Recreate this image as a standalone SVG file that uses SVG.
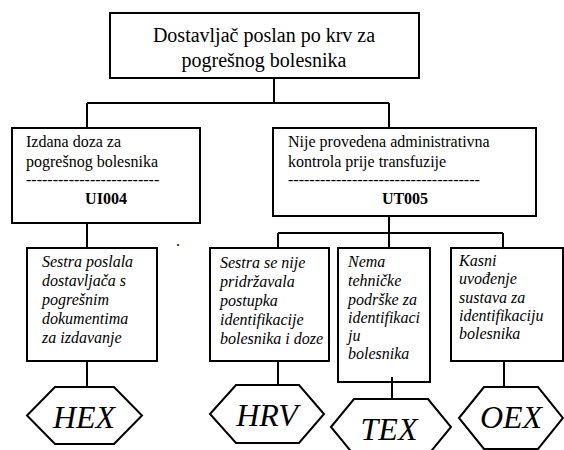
<svg xmlns="http://www.w3.org/2000/svg" width="564" height="450" viewBox="0 0 564 450" font-family="'Liberation Serif', 'Times New Roman', Times, serif">
<style>
.box{fill:#fff;stroke:#000;stroke-width:2}
.conn{stroke:#000;stroke-width:2;fill:none}
text{font-family:'Liberation Serif','Times New Roman',Times,serif;fill:#000}
.title{font-size:20px;text-anchor:middle}
.n{font-size:16px}
.i{font-size:16px;font-style:italic}
.code{font-size:16px;font-weight:bold;text-anchor:middle}
.hx{font-size:32px;font-style:italic;text-anchor:middle}
</style>
<rect width="564" height="450" fill="#fff"/>
<g id="top">
<rect class="box" x="110" y="13" width="309" height="65"/>
<text class="title" x="264" y="42">Dostavljač poslan po krv za</text>
<text class="title" x="264" y="67">pogrešnog bolesnika</text>
</g>
<g id="UI004">
<rect class="box" x="12" y="128" width="188" height="95"/>
<text class="n" x="26" y="147">Izdana doza za</text>
<text class="n" x="26" y="167">pogrešnog bolesnika</text>
<text class="n" x="26" y="185">-------------------------</text>
<text class="code" x="106" y="204">UI004</text>
</g>
<g id="UT005">
<rect class="box" x="273" y="128" width="263" height="88"/>
<text class="n" x="288" y="147">Nije provedena administrativna</text>
<text class="n" x="288" y="167">kontrola prije transfuzije</text>
<text class="n" x="288" y="185">------------------------------------</text>
<text class="code" x="405" y="204">UT005</text>
</g>
<g id="cause-hex">
<rect class="box" x="27" y="248" width="130" height="113"/>
<text class="i" x="42" y="267">Sestra poslala</text>
<text class="i" x="42" y="286">dostavljača s</text>
<text class="i" x="42" y="305">pogrešnim</text>
<text class="i" x="42" y="324">dokumentima</text>
<text class="i" x="42" y="343">za izdavanje</text>
</g>
<g id="cause-hrv">
<rect class="box" x="210" y="248" width="119" height="113"/>
<text class="i" x="220" y="268">Sestra se nije</text>
<text class="i" x="220" y="287">pridržavala</text>
<text class="i" x="220" y="306">postupka</text>
<text class="i" x="220" y="325">identifikacije</text>
<text class="i" x="220" y="344">bolesnika i doze</text>
</g>
<g id="cause-tex">
<rect class="box" x="338" y="248" width="92" height="134"/>
<text class="i" x="348" y="267">Nema</text>
<text class="i" x="348" y="286">tehničke</text>
<text class="i" x="348" y="305">podrške za</text>
<text class="i" x="348" y="323">identifikaci</text>
<text class="i" x="348" y="341">ju</text>
<text class="i" x="348" y="359">bolesnika</text>
</g>
<g id="cause-oex">
<rect class="box" x="451" y="248" width="112" height="113"/>
<text class="i" x="459" y="266">Kasni</text>
<text class="i" x="459" y="284">uvođenje</text>
<text class="i" x="459" y="303">sustava za</text>
<text class="i" x="459" y="321">identifikaciju</text>
<text class="i" x="459" y="339">bolesnika</text>
</g>
<g id="HEX">
<polygon class="box" points="27,415.5 55,387 114,387 142,415.5 114,444 55,444"/>
<text class="hx" x="84" y="428">HEX</text>
</g>
<g id="HRV">
<polygon class="box" points="210,414 236,385 299,385 324,414 299,443 236,443"/>
<text class="hx" x="267" y="426">HRV</text>
</g>
<g id="TEX">
<polygon class="box" points="331,427 354,399 428,399 451,427 428,455 354,455"/>
<text class="hx" x="389" y="440">TEX</text>
</g>
<g id="OEX">
<polygon class="box" points="459,418 484,387 538,387 563,418 538,449 484,449"/>
<text class="hx" x="511" y="428">OEX</text>
</g>
<text class="n" x="176" y="246">.</text>
<g id="connectors" class="conn">
<path d="M274 78V103M87 103H389M87 103V128M389 103V128"/>
<path d="M87 223V248M87 361V387"/>
<path d="M389 216V233M278 233H503M278 233V248M389 233V248M503 233V248"/>
<path d="M278 361V385"/>
<path d="M392 377V399"/>
<path d="M504 361V387"/>
</g>
</svg>
